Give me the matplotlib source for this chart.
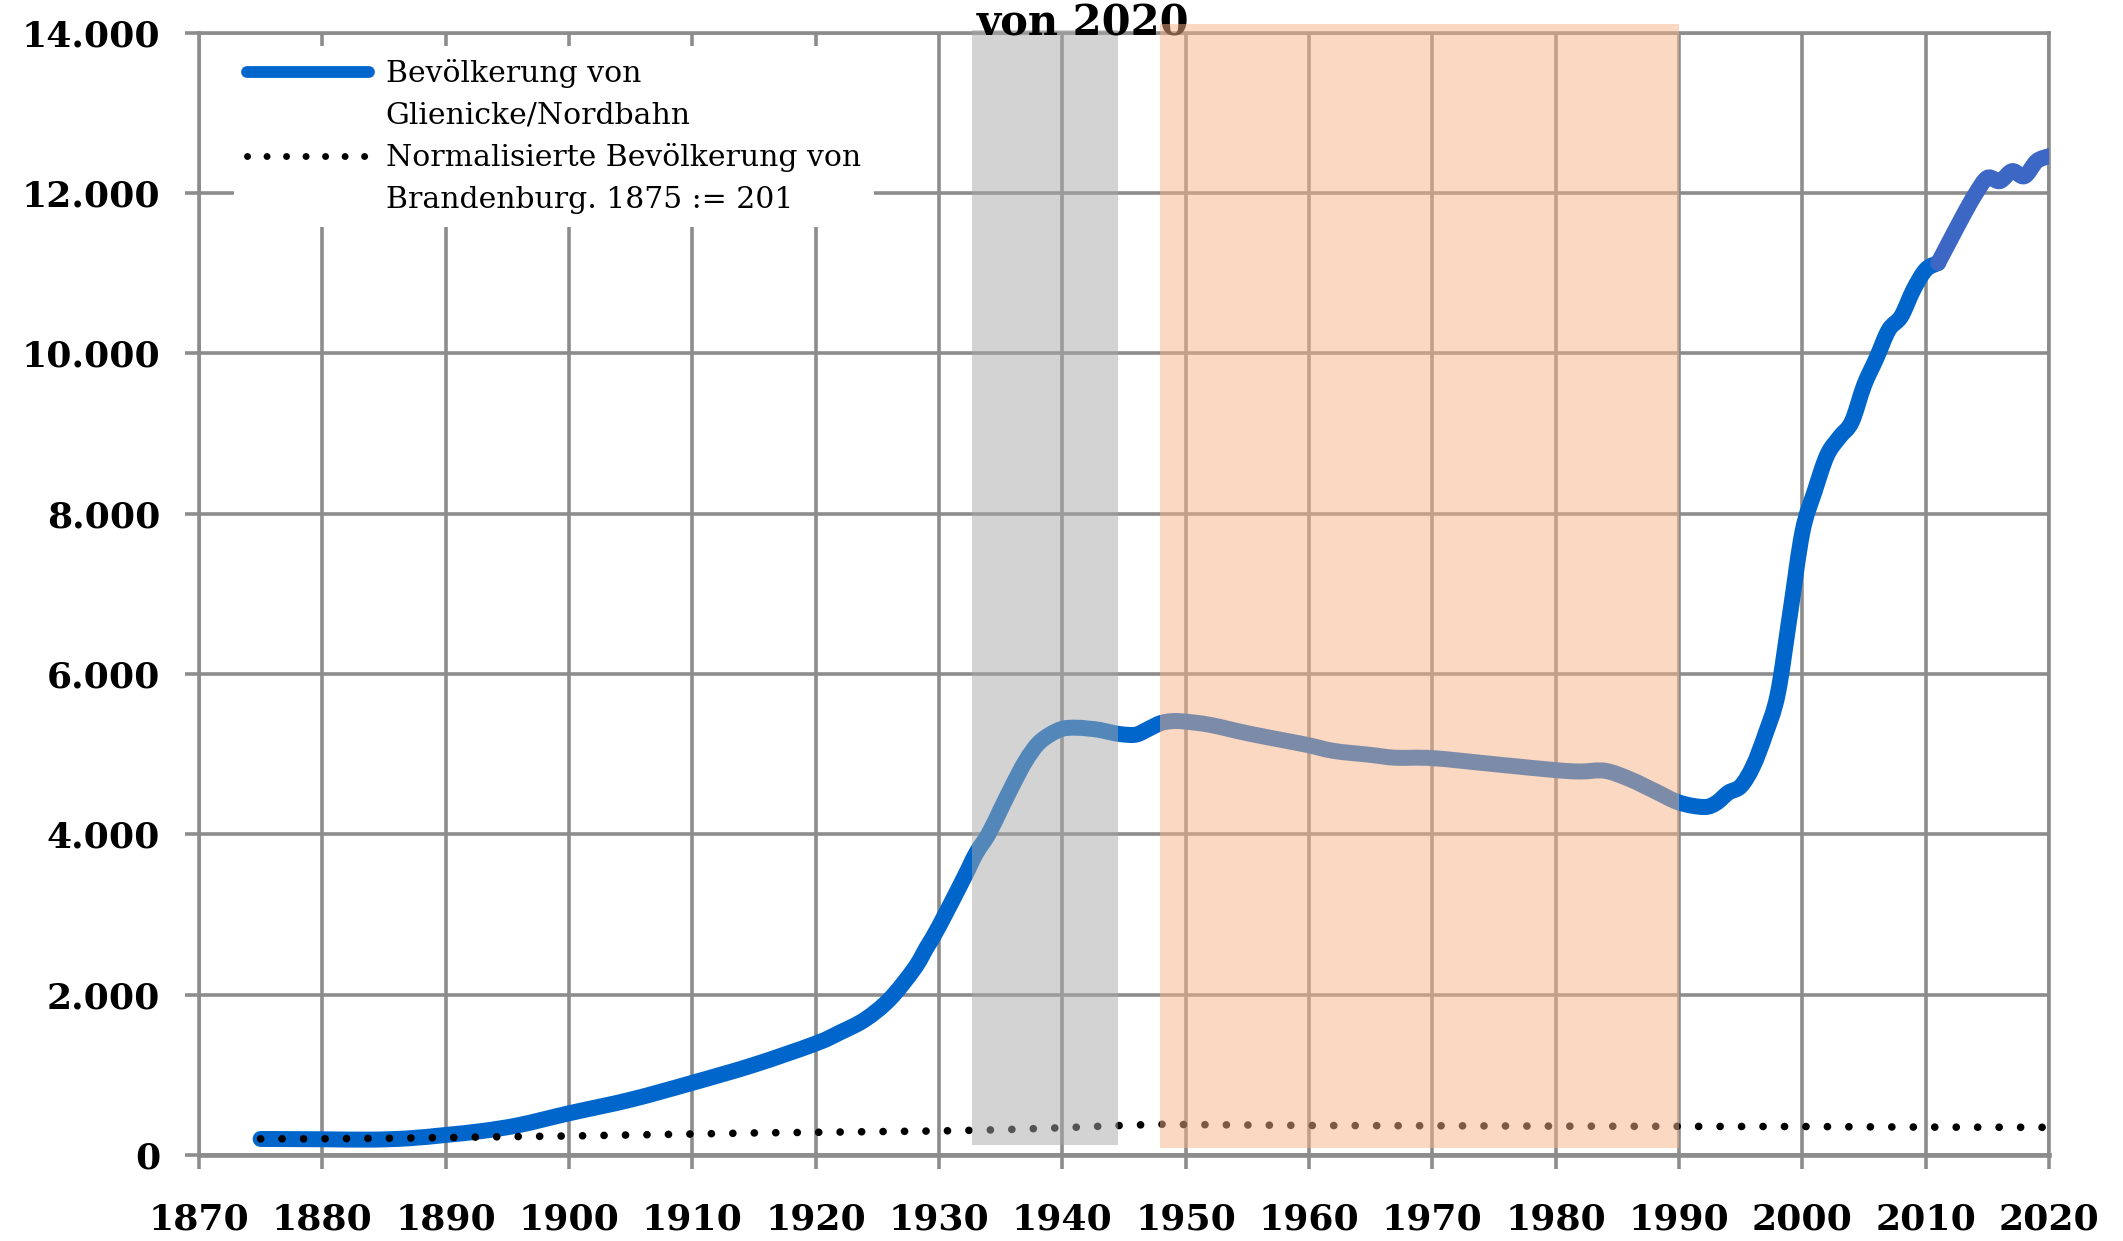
import matplotlib
matplotlib.use("Agg")
import numpy as np
import matplotlib.pyplot as plt
from matplotlib.lines import Line2D
from matplotlib.path import Path
from matplotlib.patches import PathPatch

plt.rcParams['font.family'] = ['DejaVu Serif']

# Glienicke/Nordbahn population
years_glienicke = [1875, 1880, 1884, 1887, 1890, 1893, 1896, 1900, 1905, 1910, 1915, 1920,
                   1922, 1924, 1926, 1928, 1929, 1930, 1932, 1933, 1934, 1935, 1936, 1937,
                   1938, 1939, 1940, 1941, 1942, 1943, 1944, 1945, 1946, 1947, 1948, 1949,
                   1950, 1952, 1955, 1958, 1960, 1962, 1965, 1967, 1970, 1975, 1980, 1982,
                   1984, 1986, 1988, 1990, 1992, 1993, 1994, 1995, 1996, 1997, 1998, 1999,
                   2000, 2001, 2002, 2003, 2004, 2005, 2006, 2007, 2008, 2009, 2010, 2011]
pop_glienicke = [200, 196, 192, 208, 250, 300, 375, 520, 690, 900, 1125, 1390,
                 1530, 1690, 1943, 2325, 2588, 2852, 3450, 3761, 4000, 4311, 4622, 4909,
                 5125, 5244, 5316, 5330, 5320, 5302, 5268, 5244, 5244, 5316, 5388, 5412,
                 5405, 5364, 5260, 5170, 5110, 5040, 4990, 4955, 4950, 4875, 4800, 4783,
                 4792, 4688, 4542, 4396, 4340, 4390, 4520, 4600, 4850, 5250, 5750, 6750,
                 7770, 8281, 8728, 8952, 9144, 9600, 9938, 10292, 10458, 10792, 11042, 11125]

# later segment (drawn in a slightly different blue)
years_recent = [2011, 2012, 2013, 2014, 2015, 2016, 2017, 2018, 2019, 2020]
pop_recent = [11125, 11417, 11708, 11979, 12188, 12146, 12271, 12208, 12396, 12458]

# normalised Brandenburg population, 1875 := 201
years_bb = [1875, 1880, 1885, 1890, 1895, 1900, 1905, 1910, 1915, 1920, 1925, 1930,
            1935, 1940, 1945, 1948, 1950, 1960, 1970, 1980, 1990, 2000, 2010, 2020]
pop_bb = [201, 203, 208, 217, 229, 237, 250, 262, 275, 283, 292, 300,
          315, 340, 370, 383, 380, 368, 365, 360, 357, 355, 348, 345]

# shaded periods: (start, end, bottom, top)
ns_period = [1932.7, 1944.5, 124, 14030]
ddr_period = [1947.9, 1990.0, 86, 14100]

x_ticks = list(range(1870, 2021, 10))
y_ticks = [0, 2000, 4000, 6000, 8000, 10000, 12000, 14000]
y_labels = ["0", "2.000", "4.000", "6.000", "8.000", "10.000", "12.000", "14.000"]

label_glienicke = ["Bevölkerung von", "Glienicke/Nordbahn"]
label_bb = ["Normalisierte Bevölkerung von", "Brandenburg. 1875 := 201"]

grid_gray = "#8c8c8c"
blue = "#0066cc"
blue2 = "#3c67c5"


def smoothed(xs, ys):
    # bezier path through the points, like a "smoothed line" in a spreadsheet chart
    p = np.column_stack([xs, ys]).astype(float)
    ext = np.vstack([p[0], p, p[-1]])
    verts = [p[0]]
    codes = [Path.MOVETO]
    for i in range(1, len(ext) - 2):
        p0, p1, p2, p3 = ext[i - 1], ext[i], ext[i + 1], ext[i + 2]
        verts += [p1 + (p2 - p0) / 6, p2 - (p3 - p1) / 6, p2]
        codes += [Path.CURVE4] * 3
    return Path(verts, codes)


fig = plt.figure(figsize=(21.23, 12.41), dpi=100)
ax = fig.add_axes([0.0937, 0.0693, 0.8715, 0.9045])

for xs, ys, col in [(years_glienicke, pop_glienicke, blue), (years_recent, pop_recent, blue2)]:
    patch = PathPatch(smoothed(xs, ys), facecolor='none', edgecolor=col, lw=11.5,
                      capstyle='round', joinstyle='round', zorder=3)
    ax.add_patch(patch)

ax.plot(years_bb, pop_bb, color='black', lw=5.5, linestyle=(0, (0.01, 2.8)),
        dash_capstyle='round', zorder=4)

# shaded bands (drawn over the lines, partly transparent)
ax.fill_between([ns_period[0], ns_period[1]], ns_period[2], ns_period[3],
                color='#a8a8a8', alpha=0.5, lw=0, zorder=5, clip_on=False)
ax.fill_between([ddr_period[0], ddr_period[1]], ddr_period[2], ddr_period[3],
                color='#f9b285', alpha=0.5, lw=0, zorder=7, clip_on=False)

# remains of the cut-off title
ax.text(0.510, 1 - 35 / 1241, "von 2020", transform=fig.transFigure, ha='center',
        va='baseline', fontsize=30, fontweight='bold', zorder=6, clip_on=False)

ax.set_xlim(1870, 2020)
ax.set_ylim(0, 14000)
ax.set_xticks(x_ticks)
ax.set_yticks(y_ticks)
ax.set_yticklabels(y_labels)
ax.grid(True, color=grid_gray, lw=2.6)
ax.set_axisbelow(True)
for s in ax.spines.values():
    s.set_color(grid_gray)
    s.set_linewidth(2.6)
ax.spines['bottom'].set_linewidth(3.4)
ax.tick_params(axis='both', direction='out', length=10, width=2.6, color=grid_gray,
               labelsize=26)
ax.tick_params(axis='y', pad=18)
ax.tick_params(axis='x', pad=24)
for lab in ax.get_xticklabels() + ax.get_yticklabels():
    lab.set_fontweight('bold')

handles = [Line2D([], [], color=blue, lw=8.5, solid_capstyle='round'),
           Line2D([], [], color='none'),
           Line2D([], [], color='black', lw=5, linestyle=(0, (0.01, 2.8)),
                  dash_capstyle='round'),
           Line2D([], [], color='none')]
labels = [label_glienicke[0], label_glienicke[1], label_bb[0], label_bb[1]]
leg = ax.legend(handles, labels, loc='upper left', bbox_to_anchor=(0.110, 0.963),
                bbox_transform=fig.transFigure, fontsize=21.5, frameon=True,
                fancybox=False, framealpha=1, edgecolor='none', facecolor='white',
                handlelength=4.1, handletextpad=0.55, labelspacing=0.45, borderpad=0.45,
                borderaxespad=0)
leg.set_zorder(10)

fig.savefig("out.png", dpi=100)
